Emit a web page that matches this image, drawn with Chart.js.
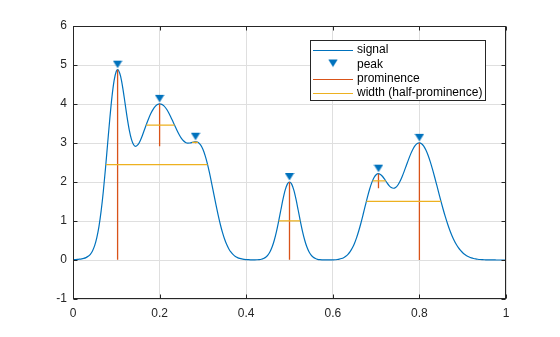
<!DOCTYPE html>
<html>
<head>
<meta charset="utf-8">
<script src="https://cdn.jsdelivr.net/npm/chart.js@4/dist/chart.umd.min.js"></script>
<style>
  html, body { margin: 0; padding: 0; background: #fff; }
  canvas { display: block; }
</style>
</head>
<body>
<canvas id="peaks" width="560" height="337"></canvas>
<script>
// signal samples
const sigX = [
  0, 0.005, 0.01, 0.015, 0.02, 0.025, 0.03, 0.035, 0.04, 0.045,
  0.05, 0.055, 0.06, 0.065, 0.07, 0.075, 0.08, 0.085, 0.09, 0.095,
  0.1, 0.103, 0.105, 0.11, 0.115, 0.12, 0.125, 0.13, 0.135, 0.14, 0.145,
  0.15, 0.155, 0.16, 0.165, 0.17, 0.175, 0.18, 0.185, 0.19, 0.195,
  0.2, 0.205, 0.21, 0.215, 0.22, 0.225, 0.23, 0.235, 0.24, 0.245,
  0.25, 0.255, 0.26, 0.265, 0.27, 0.275, 0.28, 0.285, 0.29, 0.295,
  0.3, 0.305, 0.31, 0.315, 0.32, 0.325, 0.33, 0.335, 0.34, 0.345,
  0.35, 0.355, 0.36, 0.365, 0.37, 0.375, 0.38, 0.385, 0.39, 0.395,
  0.4, 0.405, 0.41, 0.415, 0.42, 0.425, 0.43, 0.435, 0.44, 0.445,
  0.45, 0.455, 0.46, 0.465, 0.47, 0.475, 0.48, 0.485, 0.49, 0.495,
  0.5, 0.505, 0.51, 0.515, 0.52, 0.525, 0.53, 0.535, 0.54, 0.545,
  0.55, 0.555, 0.56, 0.565, 0.57, 0.575, 0.58, 0.585, 0.59, 0.595,
  0.6, 0.605, 0.61, 0.615, 0.62, 0.625, 0.63, 0.635, 0.64, 0.645,
  0.65, 0.655, 0.66, 0.665, 0.67, 0.675, 0.68, 0.685, 0.69, 0.695,
  0.7, 0.705, 0.71, 0.715, 0.72, 0.725, 0.73, 0.735, 0.74, 0.745,
  0.75, 0.755, 0.76, 0.765, 0.77, 0.775, 0.78, 0.785, 0.79, 0.795,
  0.8, 0.805, 0.81, 0.815, 0.82, 0.825, 0.83, 0.835, 0.84, 0.845,
  0.85, 0.855, 0.86, 0.865, 0.87, 0.875, 0.88, 0.885, 0.89, 0.895,
  0.9, 0.905, 0.91, 0.915, 0.92, 0.925, 0.93, 0.935, 0.94, 0.945,
  0.95, 0.955, 0.96, 0.965, 0.97, 0.975, 0.98, 0.985, 0.99, 0.995, 1
];
const sigY = [
  0.008, 0.011, 0.014, 0.020, 0.028, 0.041, 0.061, 0.094, 0.146, 0.233,
  0.368, 0.572, 0.863, 1.258, 1.757, 2.346, 2.987, 3.621, 4.183, 4.604,
  4.838, 4.880, 4.866, 4.707, 4.409, 4.037, 3.659, 3.332, 3.093, 2.955, 2.915,
  2.956, 3.054, 3.188, 3.340, 3.492, 3.636, 3.761, 3.863, 3.939, 3.986,
  4.004, 3.991, 3.951, 3.884, 3.795, 3.687, 3.569, 3.446, 3.326, 3.217,
  3.126, 3.057, 3.015, 2.997, 3.000, 3.014, 3.030, 3.032, 3.007, 2.945,
  2.838, 2.683, 2.483, 2.244, 1.980, 1.701, 1.425, 1.162, 0.923, 0.714,
  0.538, 0.396, 0.284, 0.200, 0.138, 0.092, 0.062, 0.041, 0.027, 0.018,
  0.012, 0.008, 0.005, 0.004, 0.004, 0.006, 0.010, 0.019, 0.037, 0.069,
  0.124, 0.211, 0.338, 0.513, 0.736, 0.999, 1.282, 1.558, 1.790, 1.945,
  2.000, 1.945, 1.790, 1.558, 1.282, 0.999, 0.736, 0.513, 0.338, 0.211,
  0.124, 0.069, 0.037, 0.018, 0.009, 0.004, 0.002, 0.001, 0.001, 0.002,
  0.004, 0.007, 0.013, 0.022, 0.037, 0.060, 0.095, 0.144, 0.213, 0.306,
  0.425, 0.573, 0.749, 0.949, 1.167, 1.392, 1.613, 1.814, 1.983, 2.109,
  2.187, 2.214, 2.195, 2.141, 2.065, 1.982, 1.909, 1.858, 1.840, 1.859,
  1.917, 2.011, 2.135, 2.278, 2.430, 2.581, 2.721, 2.840, 2.931, 2.986,
  3.004, 2.981, 2.919, 2.818, 2.684, 2.522, 2.336, 2.135, 1.924, 1.709,
  1.498, 1.295, 1.104, 0.928, 0.769, 0.629, 0.507, 0.403, 0.316, 0.245,
  0.187, 0.140, 0.104, 0.076, 0.055, 0.039, 0.027, 0.019, 0.013, 0.009,
  0.006, 0.004, 0.002, 0.002, 0.001, 0.001, 0.000, 0.000, 0.000, 0.000, 0.000
];

// detected peaks
const pkX = [0.103, 0.200, 0.283, 0.500, 0.7055, 0.800];
const pkY = [4.880, 4.004, 3.033, 2.000, 2.2145, 3.004];
const prominence = [4.872, 1.090, 0.037, 1.996, 0.375, 3.003];
// half-prominence width borders
const widthLeft = [0.0758, 0.1689, 0.2752, 0.4751, 0.6917, 0.6775];
const widthRight = [0.3108, 0.2345, 0.2885, 0.5249, 0.7223, 0.8499];

const legendLabels = ['signal', 'peak', 'prominence', 'width (half-prominence)'];

const BLUE = '#0072BD';
const ORANGE = '#D95319';
const YELLOW = '#EDB120';
const AXIS = '#262626';
const GRID = '#DFDFDF';
const FONT = '"Liberation Sans", Arial, Helvetica, sans-serif';

// downward triangle, drawn above the point it marks
function peakMarker() {
  const c = document.createElement('canvas');
  c.width = 10;
  c.height = 20;
  const g = c.getContext('2d');
  g.fillStyle = BLUE;
  g.beginPath();
  g.moveTo(0.3, 1);
  g.lineTo(9.7, 1);
  g.lineTo(5, 8.6);
  g.closePath();
  g.fill();
  return c;
}
const marker = peakMarker();

const signal = sigX.map((x, i) => ({ x: x, y: sigY[i] }));
const peaks = pkX.map((x, i) => ({ x: x, y: pkY[i] }));
const promSegs = [];
const widthSegs = [];
pkX.forEach((x, i) => {
  promSegs.push({ x: x, y: pkY[i] }, { x: x, y: pkY[i] - prominence[i] }, { x: x, y: null });
  const h = pkY[i] - prominence[i] / 2;
  widthSegs.push({ x: widthLeft[i], y: h }, { x: widthRight[i], y: h }, { x: widthRight[i], y: null });
});

// axes box with inward ticks on all four sides
const boxPlugin = {
  id: 'box',
  afterDatasetsDraw(chart) {
    const { ctx, chartArea: a, scales } = chart;
    const L = Math.round(a.left) + 0.5, R = Math.round(a.right) - 0.5;
    const T = Math.round(a.top) + 0.5, B = Math.round(a.bottom) - 0.5;
    ctx.save();
    ctx.strokeStyle = AXIS;
    ctx.lineWidth = 1;
    ctx.strokeRect(L, T, R - L, B - T);
    const tl = 4;
    ctx.beginPath();
    scales.x.ticks.forEach(t => {
      const px = Math.round(scales.x.getPixelForValue(t.value)) + 0.5;
      ctx.moveTo(px, B); ctx.lineTo(px, B - tl);
      ctx.moveTo(px, T); ctx.lineTo(px, T + tl);
    });
    scales.y.ticks.forEach(t => {
      const py = Math.round(scales.y.getPixelForValue(t.value)) + 0.5;
      ctx.moveTo(L, py); ctx.lineTo(L + tl, py);
      ctx.moveTo(R, py); ctx.lineTo(R - tl, py);
    });
    ctx.stroke();
    ctx.restore();
  }
};

// boxed legend in the upper right of the axes
const legendPlugin = {
  id: 'boxLegend',
  afterDraw(chart) {
    const ctx = chart.ctx;
    const x0 = 310.5, y0 = 40.5, w = 175, h = 60;
    const rows = [49.5, 64.5, 78.5, 93];
    ctx.save();
    ctx.fillStyle = '#fff';
    ctx.fillRect(x0, y0, w, h);
    ctx.strokeStyle = AXIS;
    ctx.lineWidth = 1;
    ctx.strokeRect(x0, y0, w, h);
    const lineColors = [BLUE, null, ORANGE, YELLOW];
    legendLabels.forEach((label, i) => {
      const y = rows[i];
      if (lineColors[i]) {
        ctx.strokeStyle = lineColors[i];
        ctx.lineWidth = 1.2;
        ctx.beginPath();
        ctx.moveTo(313, Math.round(y) + 0.5);
        ctx.lineTo(353, Math.round(y) + 0.5);
        ctx.stroke();
      } else {
        ctx.drawImage(marker, 328, y - 6);
      }
      ctx.fillStyle = '#000';
      ctx.font = '12px ' + FONT;
      ctx.textAlign = 'left';
      ctx.textBaseline = 'middle';
      ctx.fillText(label, 357, y);
    });
    ctx.restore();
  }
};

new Chart(document.getElementById('peaks'), {
  type: 'line',
  data: {
    datasets: [
      {
        label: legendLabels[1],
        data: peaks,
        showLine: false,
        pointStyle: marker,
        pointRadius: 5,
        order: 0
      },
      {
        label: legendLabels[3],
        data: widthSegs,
        borderColor: YELLOW,
        borderWidth: 1.3,
        pointRadius: 0,
        spanGaps: false,
        order: 1
      },
      {
        label: legendLabels[2],
        data: promSegs,
        borderColor: ORANGE,
        borderWidth: 1.3,
        pointRadius: 0,
        spanGaps: false,
        order: 2
      },
      {
        label: legendLabels[0],
        data: signal,
        borderColor: BLUE,
        borderWidth: 1.2,
        pointRadius: 0,
        cubicInterpolationMode: 'monotone',
        order: 3
      }
    ]
  },
  options: {
    responsive: false,
    animation: false,
    devicePixelRatio: 1,
    layout: { padding: { left: 0, right: 54, top: 26, bottom: 0 } },
    plugins: { legend: { display: false }, tooltip: { enabled: false } },
    scales: {
      x: {
        type: 'linear',
        min: 0,
        max: 1,
        ticks: {
          stepSize: 0.2,
          padding: 7,
          color: AXIS,
          font: { family: FONT, size: 12 },
          callback: v => String(+v.toFixed(1))
        },
        grid: { color: GRID, drawTicks: false },
        border: { display: false },
        afterFit: s => { s.height = 38; }
      },
      y: {
        min: -1,
        max: 6,
        ticks: {
          stepSize: 1,
          padding: 6,
          color: AXIS,
          font: { family: FONT, size: 12 }
        },
        grid: { color: GRID, drawTicks: false },
        border: { display: false },
        afterFit: s => { s.width = 73; }
      }
    }
  },
  plugins: [boxPlugin, legendPlugin]
});
</script>
</body>
</html>
